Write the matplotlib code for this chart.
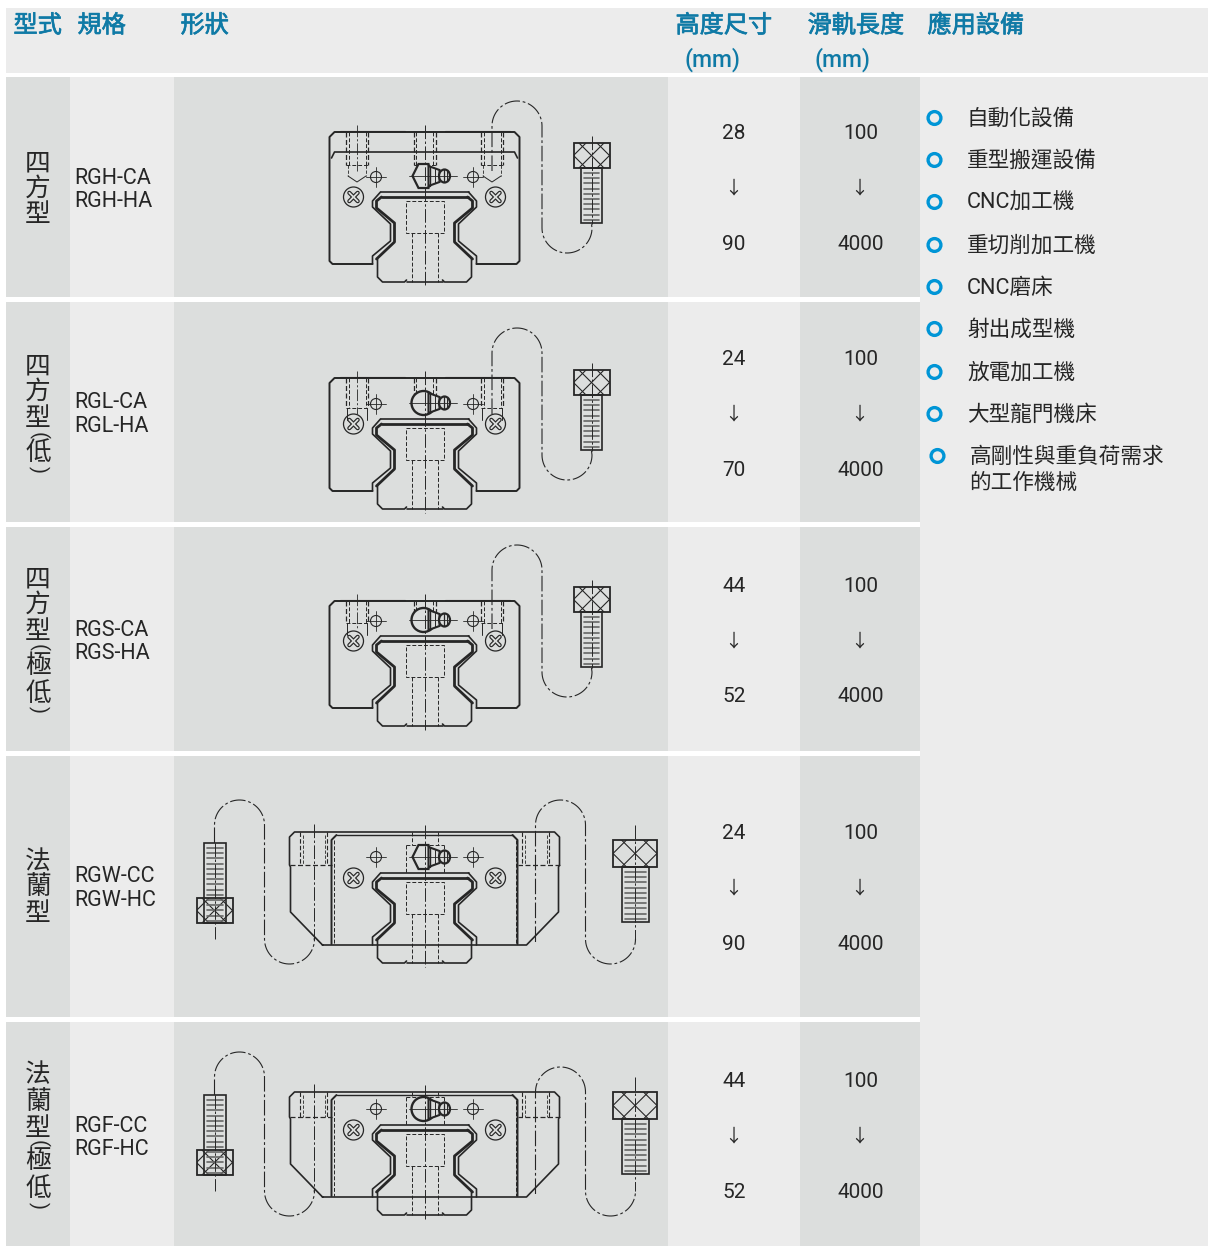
import numpy as np
import matplotlib
matplotlib.use("Agg")
import matplotlib.pyplot as plt
import matplotlib.patheffects as pe
from matplotlib.patches import Rectangle, Circle, Ellipse, Polygon

HEADERS = ["型式", "規格", "形狀", "高度尺寸", "滑軌長度", "應用設備"]
UNIT = "(mm)"
TYPES = ["四方型", "四方型(低)", "四方型(極低)", "法蘭型", "法蘭型(極低)"]
MODELS = [["RGH-CA", "RGH-HA"], ["RGL-CA", "RGL-HA"], ["RGS-CA", "RGS-HA"],
          ["RGW-CC", "RGW-HC"], ["RGF-CC", "RGF-HC"]]
HEIGHT_MIN = [28, 24, 44, 24, 44]
HEIGHT_MAX = [90, 70, 52, 90, 52]
LENGTH_MIN = [100, 100, 100, 100, 100]
LENGTH_MAX = [4000, 4000, 4000, 4000, 4000]
APPLICATIONS = ["自動化設備", "重型搬運設備", "CNC加工機", "重切削加工機", "CNC磨床",
                "射出成型機", "放電加工機", "大型龍門機床", "高剛性與重負荷需求\n的工作機械"]

# layout (pixels)
W, H = 1208, 1246
ROW_TOP = [77, 302, 527, 756, 1022]
ROW_BOT = [297, 522, 751, 1017, 1246]
VAL_Y = [133.5, 359.5, 586.5, 833.5, 1081.5]
MODEL_Y = [178, 403, 630, 877, 1126]
CHAR_Y = [[163, 189, 215], [366, 392, 419, 435, 453, 470],
          [579, 605, 632, 648, 666, 694, 710], [862, 887, 914],
          [1075, 1102, 1129, 1144, 1161, 1189, 1206]]
APP_Y = [119.5, 161.5, 203.5, 246.5, 288.5, 330.5, 373.5, 415.5, 457.5]
YB = [264, 491, 708, 945, 1197]
BLOCK_H = [132, 113, 107, 113, 105]
HOLE_UP = [99, 83, 85]
DARK, LIGHT = "#dcdedd", "#ececec"
HEAD_C, INK, RING = "#0f7aa6", "#262626", "#0095d6"
CJK = ["Noto Sans CJK TC", "DejaVu Sans"]
MIX = ["Roboto", "Noto Sans CJK TC", "DejaVu Sans"]
DASH = (0, (4, 2))
CHAIN = (0, (14, 2.5, 2.5, 2.5))

fig = plt.figure(figsize=(W / 100, H / 100), dpi=100, facecolor="white")
ax = fig.add_axes([0, 0, 1, 1])
ax.set_xlim(0, W)
ax.set_ylim(H, 0)
ax.axis("off")


def band(x0, x1, y0, y1, c):
    ax.add_patch(Rectangle((x0, y0), x1 - x0, y1 - y0, fc=c, ec="none", zorder=0))


def line(xs, ys, lw=1.0, ls="-", c=INK, z=3):
    ax.plot(xs, ys, color=c, lw=lw, ls=ls, zorder=z, solid_capstyle="round",
            solid_joinstyle="round", dash_capstyle="butt")


def arc(cx, cy, r, a0, a1, n=40):
    t = np.radians(np.linspace(a0, a1, n))
    return cx + r * np.cos(t), cy + r * np.sin(t)


def chain_curve(x_start, y_start, y_top, y_bot_arc, x_end, y_end, r=25, lw=0.8):
    """Dash-dot hanging wire: up, over, down, under, up."""
    xa, ya = arc(x_start + r, y_top + r, r, 180, 360)
    xb, yb = arc(x_start + 3 * r, y_bot_arc, r, 180, 0)
    xs = np.r_[x_start, xa, xb, x_end]
    ys = np.r_[y_start, ya, yb, y_end]
    line(xs, ys, lw=lw, ls=CHAIN, z=2)


def bolt(cx, head_top, head_bot, shank_end, hw, sw):
    y0, y1 = head_top, head_bot
    clip = Rectangle((cx - hw, y0), 2 * hw, y1 - y0, fc="none", ec=INK, lw=1.3, zorder=4)
    ax.add_patch(clip)
    h = y1 - y0
    for k in range(-3, 4):
        x_l = cx + k * hw
        l1, = ax.plot([x_l - h / 2, x_l + h / 2], [y0, y1], color=INK, lw=.8, zorder=3)
        l2, = ax.plot([x_l - h / 2, x_l + h / 2], [y1, y0], color=INK, lw=.8, zorder=3)
        l1.set_clip_path(clip)
        l2.set_clip_path(clip)
    a, b = sorted([y1, shank_end])
    ax.add_patch(Rectangle((cx - sw, a), 2 * sw, b - a, fc="none", ec=INK, lw=1.2, zorder=4))
    pad = 5
    for y in np.arange(a + pad, b - 2, 5.2):
        line([cx - sw + 3, cx + sw - 3], [y, y], lw=1.2, c="#666666")


def screw(x, y, r=10):
    ax.add_patch(Circle((x, y), r, fc="none", ec=INK, lw=.9, zorder=3))
    d = r * .42
    line([x - d, x + d], [y - d, y + d], lw=3.0)
    line([x - d, x + d], [y + d, y - d], lw=3.0)
    line([x - d, x + d], [y - d, y + d], lw=1.3, c=DARK, z=4)
    line([x - d, x + d], [y + d, y - d], lw=1.3, c=DARK, z=4)


def crosshair(x, y, r=5.5):
    ax.add_patch(Circle((x, y), r, fc="none", ec=INK, lw=.8, zorder=3))
    line([x - 10, x + 10], [y, y], lw=.6)
    line([x, x], [y - 10, y + 10], lw=.6)


def nipple(cx, y, round_body):
    if round_body:
        ax.add_patch(Ellipse((cx - 1, y), 24, 24, fc=DARK, ec=INK, lw=1.7, zorder=4))
    else:
        ax.add_patch(Polygon([(cx - 12, y), (cx - 6, y - 12), (cx + 4, y - 12), (cx + 7, y),
                              (cx + 4, y + 12), (cx - 6, y + 12)],
                             closed=True, fc=DARK, ec=INK, lw=1.6, zorder=4))
    ax.add_patch(Polygon([(cx + 4, y - 10), (cx + 15, y - 6), (cx + 15, y + 6), (cx + 4, y + 10)],
                         closed=True, fc=DARK, ec=INK, lw=1.5, zorder=4))
    ax.add_patch(Ellipse((cx + 20, y), 11, 13, fc=DARK, ec=INK, lw=1.6, zorder=4))
    line([cx + 19, cx + 19], [y - 6, y + 6], lw=.9, z=5)
    line([cx + 22, cx + 22], [y - 5, y + 5], lw=.7, z=5)
    line([cx - 16, cx + 32], [y, y], lw=.6, z=5)
    line([cx + 5, cx + 5], [y - 10, y + 10], lw=1.0, z=5)
    line([cx + 10, cx + 10], [y - 7, y + 7], lw=.7, z=5)


def rail(cx, yb):
    """Rail section and its opening in the block, mirrored about cx."""
    opening = [(-52, 0), (-52, 8), (-34, 23), (-34, 40), (-52, 57), (-52, 63), (-44, 72)]
    inner = [(-48, 5), (-30, 22), (-30, 41), (-48, 56), (-48, 63), (-43, 67)]
    rail_low = [(-47, 5), (-47, -13), (-42, -18), (-20, -18), (-18, -16)]
    for prof, lw in ((opening, 1.2), (inner, 2.0), (rail_low, 1.2)):
        xl = [cx + p[0] for p in prof]
        yl = [yb - p[1] for p in prof]
        xr = [cx - p[0] for p in prof]
        line(xl, yl, lw=lw)
        line(xr, yl, lw=lw)
    line([cx - 44, cx + 44], [yb - 72, yb - 72], lw=1.2)
    line([cx - 43, cx + 43], [yb - 67, yb - 67], lw=2.0)
    line([cx - 18, cx + 18], [yb + 18, yb + 18], lw=1.2)
    ax.add_patch(Rectangle((cx - 19, yb - 63), 38, 32, fc="none", ec=INK, lw=.7, ls=DASH, zorder=3))
    for s in (-1, 1):
        line([cx + s * 13, cx + s * 13], [yb - 31, yb + 18], lw=.7, ls=DASH)


def square_block(cx, yb, h, hole_up, idx):
    top = yb - h
    xs = [cx - 52, cx - 92, cx - 95, cx - 95, cx - 90, cx + 90, cx + 95, cx + 95, cx + 92, cx + 52]
    ys = [yb, yb, yb - 3, top + 5, top, top, top + 5, yb - 3, yb, yb]
    line(xs, ys, lw=1.4)
    line([cx - 85, cx - 20], [top - .8, top - .8], lw=.8)
    line([cx + 20, cx + 85], [top - .8, top - .8], lw=.8)
    if h > 125:
        line([cx - 93, cx - 90, cx + 90, cx + 93], [yb - 106, yb - 112, yb - 112, yb - 106], lw=1.2)
    for dx in (-67.5, 0, 67.5):
        x = cx + dx
        for s in (-1, 1):
            line([x + s * 11, x + s * 11], [top, yb - hole_up], lw=.9, ls=DASH)
            line([x + s * 8.5, x + s * 8.5], [top, yb - hole_up], lw=.7, ls=DASH)
        line([x - 11, x + 11], [yb - hole_up, yb - hole_up], lw=.7, ls=DASH)
        if h > 125:
            if dx != 0:
                line([x - 9, x, x + 9], [yb - 88, yb - 82, yb - 88], lw=.7)
            for s in (-1, 1):
                if dx != 0:
                    line([x + s * 9, x + s * 9], [yb - hole_up, yb - 88], lw=.6, ls=DASH)
        elif dx != 0:
            for s in (-1, 1):
                line([x + s * 10, x + s * 10], [yb - hole_up, yb - hole_up + 12], lw=.7)
    line([cx - 67.5, cx - 67.5], [top - 7, yb - hole_up + 6], lw=.6, ls=CHAIN)
    line([cx, cx], [top - 7, yb + 22], lw=.7, ls=CHAIN, z=5)
    for s in (-1, 1):
        crosshair(cx + s * 48.5, yb - 87)
        screw(cx + s * 71, yb - 67)
    nipple(cx, yb - 88, idx > 0)
    rail(cx, yb)
    x_s = cx + 67.5
    chain_curve(x_s, yb - hole_up + 6, yb - 163, yb - 36, cx + 167, yb - 40)
    line([cx + 167, cx + 167], [yb - 128, yb - 40], lw=.7, ls=CHAIN, z=5)
    bolt(cx + 167, yb - 121, yb - 96, yb - 41, 18, 10.5)


def flange_block(cx, yb, h, right_top):
    top = yb - h
    xs = [cx - 102, cx - 134, cx - 134, cx - 135, cx - 135, cx - 130,
          cx + 130, cx + 135, cx + 135, cx + 134, cx + 134, cx + 102, cx - 102]
    ys = [yb, yb - 33, yb - 78, yb - 80, top + 5, top, top, top + 5, yb - 80, yb - 78, yb - 33, yb, yb]
    line(xs, ys, lw=1.2)
    for s in (-1, 1):
        xo = cx + s * 93
        line([xo, xo, cx + s * 88], [yb - 1, top + 8, top + 3], lw=1.4)
        line([xo - s * 2, xo - s * 2], [top + 8, yb - 1], lw=.7, ls=DASH)
        line([cx + s * 88, cx], [top + 3, top + 3], lw=1.0)
        line([cx + s * 135, cx + s * 93], [yb - 80, yb - 80], lw=.9, ls=DASH)
    for dx in (-111, 111):
        x = cx + dx
        for sgn in (-1, 1):
            line([x + sgn * 13.5, x + sgn * 13.5], [top, yb - 80], lw=.8, ls=DASH)
            line([x + sgn * 11, x + sgn * 11], [top + 3, yb - 80], lw=.6, ls=DASH)
    for s in (-1, 1):
        line([cx + s * 13, cx + s * 13], [top, yb - 100], lw=.7, ls=DASH)
        line([cx + s * 19, cx + s * 19], [yb - 100, yb - 72], lw=.7, ls=DASH)
    line([cx - 19, cx + 19], [yb - 100, yb - 100], lw=.7, ls=DASH)
    line([cx, cx], [top - 7, yb + 22], lw=.7, ls=CHAIN, z=5)
    for s in (-1, 1):
        crosshair(cx + s * 48.5, yb - 88)
        screw(cx + s * 71, yb - 67)
    nipple(cx, yb - 88, h < 110)
    rail(cx, yb)
    # left wire and bolt (head down)
    xl = cx - 210
    chain_curve(xl, yb - 102, yb - 145, yb - 6, cx - 111, yb - 6)
    line([cx - 111, cx - 111], [top - 8, yb - 6], lw=.7, ls=CHAIN, z=5)
    line([xl, xl], [yb - 102, yb - 6], lw=.7, ls=CHAIN, z=5)
    bolt(xl, yb - 47, yb - 22, yb - 102, 18, 11)
    # right wire and bolt
    xr = cx + 111
    chain_curve(xr, yb - 3, right_top, yb - 6, cx + 210.5, yb - 6)
    line([cx + 210.5, cx + 210.5], [yb - 120, yb - 6], lw=.7, ls=CHAIN, z=5)
    bolt(cx + 210.5, yb - 105, yb - 78, yb - 23, 22, 13.5)


# ---------- table background ----------
band(6, W, 8, 73, LIGHT)
for t, b in zip(ROW_TOP, ROW_BOT):
    for x0, x1, c in [(6, 70, DARK), (70, 174, LIGHT), (174, 668, DARK), (668, 800, LIGHT), (800, 920, DARK)]:
        band(x0, x1, t, b, c)
band(920, W, ROW_TOP[0], H, LIGHT)

# ---------- header ----------
bold_fx = [pe.withStroke(linewidth=.5, foreground=HEAD_C)]
for label, x in zip(HEADERS, [13.5, 77.5, 180.5, 675.5, 807.5, 927.5]):
    ax.text(x, 25.5, label, family=CJK, fontsize=17.4, color=HEAD_C, ha="left", va="center",
            path_effects=bold_fx)
for x in (684, 815):
    ax.text(x, 60, UNIT, family=["Roboto"], fontsize=16.5, color=HEAD_C, weight="medium",
            ha="left", va="center")

# ---------- rows ----------
for i in range(5):
    chars = list(TYPES[i])
    for ch, y in zip(chars, CHAR_Y[i]):
        if ch in "()":
            ax.text(38, y, ch, family=["Roboto"], fontsize=14.5, color=INK, rotation=-90,
                    ha="center", va="center")
        else:
            ax.text(38, y, ch, family=CJK, fontsize=18.5, color=INK, ha="center", va="center")
    for k, m in enumerate(MODELS[i]):
        ax.text(74.5, MODEL_Y[i] + 23.5 * k, m, family=["Roboto"], fontsize=15.5, color=INK, ha="left", va="center")
    y = VAL_Y[i]
    dy_arrow, dy_max = 54.5, 110.5
    ax.text(734, y, str(HEIGHT_MIN[i]), family=["Roboto"], fontsize=15, color=INK, ha="center", va="center")
    ax.text(733.5, y + dy_arrow, "↓", family=CJK, fontsize=13, color=INK, ha="center", va="center")
    ax.text(734, y + dy_max, str(HEIGHT_MAX[i]), family=["Roboto"], fontsize=15, color=INK, ha="center", va="center")
    ax.text(860.5, y, str(LENGTH_MIN[i]), family=["Roboto"], fontsize=15, color=INK, ha="center", va="center")
    ax.text(859.5, y + dy_arrow, "↓", family=CJK, fontsize=13, color=INK, ha="center", va="center")
    ax.text(860.5, y + dy_max, str(LENGTH_MAX[i]), family=["Roboto"], fontsize=15, color=INK, ha="center", va="center")

# ---------- drawings ----------
CX = 424.5
for i in range(3):
    square_block(CX, YB[i], BLOCK_H[i], HOLE_UP[i], i)
flange_block(CX, YB[3], BLOCK_H[3], 800)
flange_block(CX, YB[4], BLOCK_H[4], 1067)

# ---------- applications ----------
for k, (app, y) in enumerate(zip(APPLICATIONS, APP_Y)):
    last = k == len(APPLICATIONS) - 1
    ax.add_patch(Circle((937.5 if last else 934.5, y - 1.5), 6.4, fc="none", ec=RING, lw=2.4, zorder=3))
    for j, part in enumerate(app.split("\n")):
        ax.text(969.5 if last else 967, y + 25.5 * j, part, family=MIX, fontsize=15.6,
                color=INK, ha="left", va="center")

fig.savefig("out.png", dpi=100, facecolor="white")
